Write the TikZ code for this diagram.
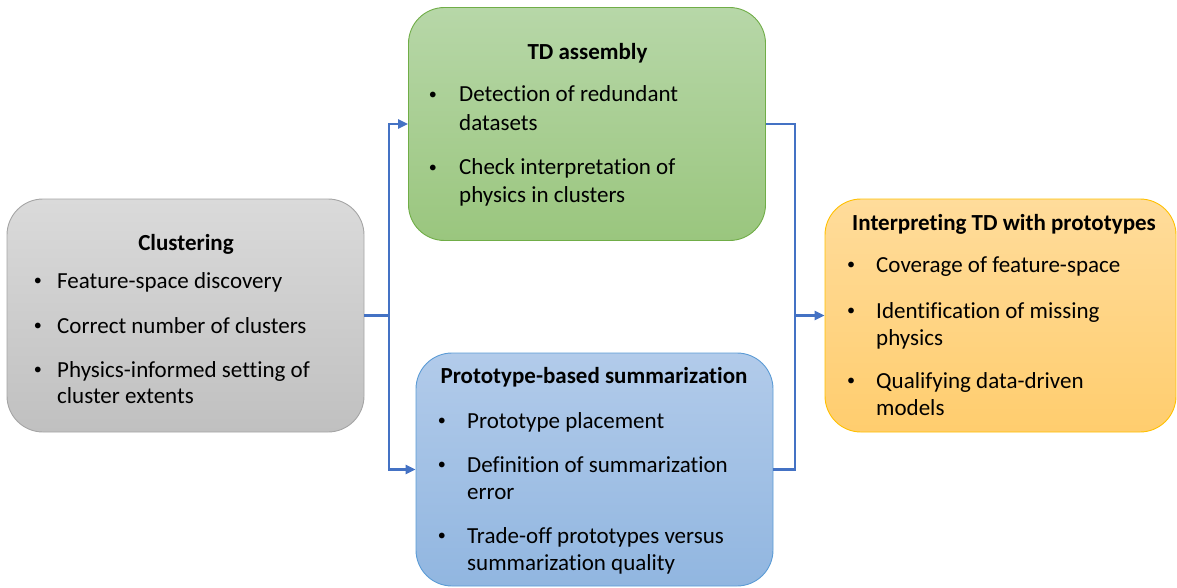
\documentclass[tikz,border=0pt]{standalone}
\usepackage{fontspec}
\setmainfont{Carlito}[Ligatures={NoCommon,NoDiscretionary}]
\usetikzlibrary{arrows.meta}

\definecolor{grayedge}{RGB}{165,165,165}
\definecolor{graytop}{RGB}{218,218,218}
\definecolor{graybot}{RGB}{192,192,192}
\definecolor{greenedge}{RGB}{112,173,71}
\definecolor{greentop}{RGB}{183,215,168}
\definecolor{greenbot}{RGB}{154,198,126}
\definecolor{blueedge}{RGB}{91,155,213}
\definecolor{bluetop}{RGB}{178,203,234}
\definecolor{bluebot}{RGB}{145,182,224}
\definecolor{orangeedge}{RGB}{255,192,0}
\definecolor{orangetop}{RGB}{255,220,155}
\definecolor{orangebot}{RGB}{255,205,110}
\definecolor{linkblue}{RGB}{68,114,196}

% small list bullet, lifted to sit at mid-letter height
\newcommand{\listdot}{\raisebox{2.6pt}{\scalebox{0.7}{•}}}

\begin{document}
\begin{tikzpicture}[x=1pt,y=-1pt,
  panel/.style={shape=rectangle, draw, line width=0.9pt, rounded corners=36pt,
                inner sep=0pt, minimum width=357pt, minimum height=233pt},
  ttl/.style={anchor=base, inner sep=0pt, font=\fontsize{23}{27}\selectfont\bfseries},
  itm/.style={anchor=base west, inner sep=0pt, font=\fontsize{23}{27}\selectfont},
  bul/.style={anchor=base, inner sep=0pt, font=\fontsize{23}{27}\selectfont},
  link/.style={draw=linkblue, line width=2.3pt},
  arr/.style={link, -{Triangle[length=10pt,width=9pt]}}]
\useasboundingbox (0,0) rectangle (1177,588);

% ---- panels ----
\node[panel, draw=grayedge, top color=graytop, bottom color=graybot]
  (clus) at (185.5,315.5) {};
\node[panel, draw=greenedge, top color=greentop, bottom color=greenbot]
  (td) at (587,124) {};
\node[panel, draw=blueedge, top color=bluetop, bottom color=bluebot]
  (proto) at (594.5,469.5) {};
\node[panel, draw=orangeedge, top color=orangetop, bottom color=orangebot,
      minimum width=351pt] (interp) at (1000.5,315.5) {};

% ---- Clustering ----
\node[ttl] (c0) at (186,250) {Clustering};
\node[bul] (cb1) at (38,288) {\listdot};
\node[itm] (c1) at (57,288) {Feature-space discovery};
\node[bul] (cb2) at (38,333) {\listdot};
\node[itm] (c2) at (57,333) {Correct number of clusters};
\node[bul] (cb3) at (38,377) {\listdot};
\node[itm] (c3) at (57,377) {Physics-informed setting of};
\node[itm] (c4) at (57,403) {cluster extents};

% ---- TD assembly ----
\node[ttl] (t0) at (587.5,60) {TD assembly};
\node[bul] (tb1) at (433,102) {\listdot};
\node[itm] (t1) at (459,102) {Detection of redundant};
\node[itm] (t2) at (459,131) {datasets};
\node[bul] (tb2) at (433,175) {\listdot};
\node[itm] (t3) at (459,175) {Check interpretation of};
\node[itm] (t4) at (459,203) {physics in clusters};

% ---- Prototype-based summarization ----
\node[ttl] (p0) at (594,383) {Prototype-based summarization};
\node[bul] (pb1) at (442,428) {\listdot};
\node[itm] (p1) at (467,428) {Prototype placement};
\node[bul] (pb2) at (442,472) {\listdot};
\node[itm] (p2) at (467,472) {Definition of summarization};
\node[itm] (p3) at (467,499) {error};
\node[bul] (pb3) at (442,543) {\listdot};
\node[itm] (p4) at (467,543) {Trade-off prototypes versus};
\node[itm] (p5) at (467,570) {summarization quality};

% ---- Interpreting TD with prototypes ----
\node[ttl] (i0) at (1004,230) {Interpreting TD with prototypes};
\node[bul] (ib1) at (851,272) {\listdot};
\node[itm] (i1) at (876,272) {Coverage of feature-space};
\node[bul] (ib2) at (851,318) {\listdot};
\node[itm] (i2) at (876,318) {Identification of missing};
\node[itm] (i3) at (876,345) {physics};
\node[bul] (ib3) at (851,388) {\listdot};
\node[itm] (i4) at (876,388) {Qualifying data-driven};
\node[itm] (i5) at (876,415) {models};

% ---- connectors ----
\coordinate (split) at (389,315.5);
\coordinate (merge) at (795,315.5);
\draw[link] (clus.east) -- (split);
\draw[arr] (split) |- (td.west);
\draw[arr] (split) |- (proto.west);
\draw[link] (td.east) -| (merge);
\draw[link] (proto.east) -| (merge);
\draw[arr] (merge) -- (interp.west);
\end{tikzpicture}
\end{document}
